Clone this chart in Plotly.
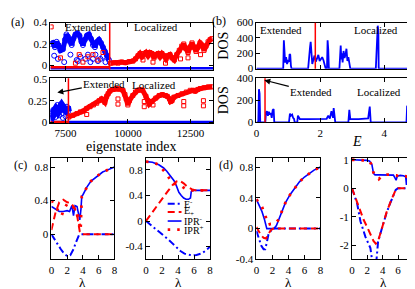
import plotly.graph_objects as go

W, H = 415, 289
FONT = "'Liberation Serif', 'DejaVu Serif', 'Times New Roman', serif"
BLUE = "#0000ff"
RED = "#ff0000"

# ---------------- panel (a) top ----------------
a_top_ext_idx = [6920, 7000, 7080, 7150, 7220, 7300, 7400, 7480, 7540, 7600, 7680, 7750, 7820, 7900,
                 7980, 8060, 8140, 8200, 8280, 8360, 8440, 8520, 8600, 8680, 8760, 8840, 8920, 9000,
                 9080, 9160, 9240]
a_top_ext_ipr = [0.20, 0.21, 0.17, 0.22, 0.19, 0.14, 0.15, 0.24, 0.29, 0.27, 0.22, 0.19, 0.25, 0.29,
                 0.30, 0.28, 0.22, 0.19, 0.24, 0.28, 0.29, 0.25, 0.19, 0.17, 0.22, 0.24, 0.21, 0.17,
                 0.13, 0.09, 0.05]
a_top_ext_out_idx = [7050, 7200, 7450, 7700, 7950, 8000, 8100, 8300, 8400, 8500, 8600, 8700, 8800, 8900, 9000, 9100]
a_top_ext_out_ipr = [0.09, 0.06, 0.03, 0.10, 0.05, 0.04, 0.08, 0.06, 0.10, 0.03, 0.06, 0.10, 0.04, 0.06, 0.08, 0.03]
a_top_loc_idx = [9300, 9450, 9600, 9750, 9900, 10050, 10200, 10300, 10400, 10480, 10560, 10640, 10720,
                 10800, 10880, 10960, 11040, 11120, 11200, 11280, 11360, 11440, 11520, 11600, 11680,
                 11760, 11850, 11950, 12050, 12150, 12230, 12300, 12400, 12480, 12560, 12640, 12720,
                 12800, 12880, 12960, 13040, 13120, 13200, 13280, 13350]
a_top_loc_ipr = [0.02, 0.025, 0.02, 0.03, 0.025, 0.035, 0.04, 0.06, 0.09, 0.11, 0.08, 0.11, 0.12,
                 0.09, 0.12, 0.11, 0.07, 0.10, 0.11, 0.08, 0.11, 0.09, 0.06, 0.09, 0.10,
                 0.07, 0.05, 0.10, 0.14, 0.18, 0.20, 0.16, 0.12, 0.17, 0.21, 0.17, 0.13,
                 0.17, 0.21, 0.19, 0.14, 0.18, 0.22, 0.24, 0.25]
a_top_red_out_idx = [6930, 7300, 7900, 8050, 8200, 8400, 8600, 8800, 9000, 10600, 11000, 11500, 12100, 12400, 12900]
a_top_red_out_ipr = [0.36, 0.07, 0.02, 0.10, 0.03, 0.08, 0.10, 0.05, 0.12, 0.05, 0.03, 0.02, 0.06, 0.07, 0.10]
a_top_zero_blue_idx = [6900, 13400]
a_top_zero_blue_ipr = [-0.032, -0.032]
a_top_zero_red_idx = [6900, 9270]
a_top_zero_red_ipr = [-0.018, -0.018]
a_top_edge = 9270

# ---------------- panel (a) bottom ----------------
a_bot_ext_idx = [6920, 6980, 7050, 7120, 7200, 7280, 7350, 7420, 7500, 7560, 7600]
a_bot_ext_ipr = [0.10, 0.08, 0.12, 0.15, 0.12, 0.17, 0.19, 0.16, 0.14, 0.18, 0.12]
a_bot_ext_out_idx = [6950, 7100, 7250, 7400, 7500, 7000, 7180, 7320]
a_bot_ext_out_ipr = [0.05, 0.06, 0.08, 0.05, 0.07, 0.14, 0.20, 0.21]
a_bot_loc_idx = [7630, 7800, 7960, 8100, 8220, 8350, 8485, 8620, 8750, 8850, 8944, 9075, 9150, 9206,
                 9272, 9400, 9535, 9660, 9797, 9880, 9929, 9995, 10060, 10192, 10300, 10389, 10500,
                 10586, 10717, 10800, 10849, 10950, 11112, 11250, 11375, 11500, 11572, 11660, 11703,
                 11760, 11835, 12000, 12163, 12330, 12491, 12600, 12688, 12790, 12885, 13050, 13214, 13372]
a_bot_loc_ipr = [0.06, 0.08, 0.10, 0.12, 0.13, 0.16, 0.18, 0.20, 0.22, 0.25, 0.27, 0.23, 0.30, 0.33,
                 0.36, 0.38, 0.39, 0.385, 0.37, 0.32, 0.27, 0.20, 0.25, 0.31, 0.35, 0.37, 0.375,
                 0.37, 0.30, 0.25, 0.21, 0.24, 0.28, 0.31, 0.32, 0.31, 0.30, 0.27, 0.24,
                 0.25, 0.29, 0.31, 0.33, 0.35, 0.37, 0.37, 0.36, 0.38, 0.39, 0.40, 0.41, 0.41]
a_bot_red_out_idx = [8350, 9600, 9600, 10650, 10650, 12230, 12230, 13016, 13016, 11000]
a_bot_red_out_ipr = [0.09, 0.27, 0.21, 0.24, 0.18, 0.24, 0.19, 0.25, 0.19, 0.20]
a_bot_zero_blue_idx = [6900, 13400]
a_bot_zero_blue_ipr = [-0.002, -0.002]
a_bot_zero_red_idx = [6900, 7620]
a_bot_zero_red_ipr = [0.002, 0.002]
a_bot_edge = 7620
a_ticks = [7500, 10000, 12500]

# ---------------- panel (b) ----------------
b_top_E = [0, 0.84, 0.86, 0.88, 0.90, 0.93, 0.96, 0.99, 1.02, 1.04, 1.06, 1.08, 1.10,
           1.62, 1.65, 1.68, 1.70, 1.72, 1.75, 1.78, 1.82, 1.86, 1.90, 1.94, 1.98, 2.02, 2.06, 2.10, 2.14, 2.17,
           2.21, 2.23, 2.25, 2.27,
           2.60, 2.62, 2.64, 2.66, 2.68, 2.70, 2.73, 2.76, 2.79, 2.82, 2.85, 2.88, 2.91, 2.94,
           3.74, 3.76, 3.78, 3.80, 3.82, 3.83, 5.0]
b_top_dos = [0, 0, 370, 120, 80, 150, 60, 100, 90, 190, 180, 40, 0,
             0, 200, 280, 350, 150, 60, 110, 170, 90, 140, 180, 100, 130, 150, 110, 60, 0,
             0, 370, 250, 0,
             0, 250, 300, 120, 200, 80, 230, 140, 180, 260, 100, 150, 60, 0,
             0, 300, 420, 560, 480, 0, 0]
b_bot_E = [0, 0.06, 0.08, 0.10, 0.12, 0.28, 0.30, 0.33, 0.36, 0.39, 0.42, 0.45, 0.48, 0.51, 0.54, 0.56,
           1.02, 1.05, 1.08, 1.12, 1.15, 1.18, 1.20, 1.28, 1.30, 1.33, 1.36, 1.6, 1.9, 2.2,
           2.25, 2.30, 2.35, 2.40, 2.42, 2.47, 2.88, 2.91, 2.94, 3.2, 3.5, 3.55, 3.58,
           4.70, 4.72, 4.75, 4.80, 4.85, 4.88, 4.92, 4.95, 5.0]
b_bot_dos = [0, 0, 300, 260, 0, 0, 90, 100, 60, 95, 70, 85, 40, 110, 120, 0,
             0, 80, 60, 70, 40, 30, 0, 0, 60, 40, 30, 28, 30, 32,
             60, 35, 100, 40, 130, 0, 0, 113, 30, 28, 35, 142, 0,
             0, 150, 140, 180, 230, 300, 315, 0, 0]
b_top_edge = 1.845
b_bot_edge = 0.27

# ---------------- panel (c) ----------------
c1_lam_em = [0, 0.4, 0.8, 1.2, 1.6, 2.0, 2.4, 2.8, 3.1, 3.5, 3.8, 8.0]
c1_em = [0, -0.06, -0.13, -0.18, -0.23, -0.26, -0.25, -0.18, -0.10, -0.01, 0, 0]
c1_lam_ep = [0, 0.5, 1.0, 1.5, 2.0, 2.5, 3.0, 3.3, 3.6, 3.8, 8.0]
c1_ep = [0.05, 0.25, 0.38, 0.41, 0.38, 0.37, 0.30, 0.20, 0.03, 0, 0]
c1_lam_ipm = [0, 0.5, 1.0, 1.5, 2.0, 2.3, 2.6, 2.8, 3.0, 3.25, 3.5, 3.6, 3.75, 3.85, 4.0, 4.5, 5.0,
              5.5, 6.0, 6.5, 7.0, 7.5, 8.0]
c1_ipm = [0.33, 0.30, 0.27, 0.27, 0.28, 0.27, 0.34, 0.22, 0.34, 0.33, 0.22, 0.17, 0.30, 0.45, 0.47,
          0.56, 0.63, 0.67, 0.71, 0.74, 0.76, 0.78, 0.80]
c1_lam_ipp = [0, 0.5, 1.0, 1.3, 1.6, 2.0, 2.4, 2.8, 3.2, 3.5, 3.7, 3.85, 4.0, 4.5, 5.0, 5.5, 6.0,
              6.5, 7.0, 7.5, 8.0]
c1_ipp = [0.40, 0.33, 0.26, 0.22, 0.30, 0.36, 0.36, 0.32, 0.28, 0.15, 0.05, 0.45, 0.47, 0.56, 0.63,
          0.67, 0.71, 0.74, 0.76, 0.78, 0.80]

c2_lam_em = [0, 0.5, 1.0, 1.6, 2.2, 2.8, 3.3, 3.8, 4.3, 4.8, 5.3, 5.8, 6.3, 6.9, 7.5, 8.0]
c2_em = [0, -0.05, -0.11, -0.17, -0.23, -0.29, -0.35, -0.41, -0.47, -0.51, -0.53, -0.54, -0.53,
         -0.51, -0.46, -0.40]
c2_lam_ep = [0, 0.5, 1.0, 1.6, 2.2, 2.8, 3.3, 3.8, 4.2, 4.7, 5.2, 5.7, 6.2, 7.0, 8.0]
c2_ep = [0, 0.09, 0.17, 0.28, 0.38, 0.48, 0.56, 0.62, 0.63, 0.59, 0.53, 0.50, 0.48, 0.48, 0.48]
c2_lam_ipm = [0, 0.8, 1.6, 2.2, 2.6, 3.0, 3.5, 3.8, 4.1, 4.4, 4.7, 5.0, 5.3, 5.55, 5.65, 5.8, 6.5,
              7.2, 8.0]
c2_ipm = [0.93, 0.92, 0.88, 0.83, 0.78, 0.72, 0.63, 0.55, 0.45, 0.40, 0.36, 0.34, 0.34, 0.36, 0.46,
          0.48, 0.48, 0.48, 0.48]
c2_lam_ipp = [0, 0.8, 1.6, 2.2, 2.6, 3.0, 3.4, 3.8, 4.2, 4.6, 5.0, 5.5, 6.0, 7.0, 8.0]
c2_ipp = [0.93, 0.92, 0.88, 0.80, 0.73, 0.65, 0.58, 0.58, 0.57, 0.53, 0.50, 0.48, 0.48, 0.48, 0.48]

# ---------------- panel (d) ----------------
d1_lam_em = [0, 0.3, 0.6, 0.9, 1.1, 1.3, 1.5, 1.8, 2.1, 2.5, 8.0]
d1_em = [-0.03, -0.12, -0.22, -0.27, -0.27, -0.18, -0.08, -0.03, 0, 0, 0]
d1_lam_ep = [0, 0.3, 0.6, 0.9, 1.2, 1.5, 1.8, 2.1, 8.0]
d1_ep = [0.02, -0.04, -0.09, -0.12, -0.13, -0.07, -0.02, 0, 0]
d1_lam_ipm = [0, 0.35, 0.7, 1.0, 1.3, 1.6, 1.9, 2.2, 2.5, 2.8, 3.2, 3.6, 4.2, 4.8, 5.4, 6.0, 6.6,
              7.2, 8.0]
d1_ipm = [0.38, 0.30, 0.22, 0.12, 0.0, 0.0, 0.0, 0.0, 0.04, 0.12, 0.23, 0.33, 0.44, 0.53, 0.61,
          0.67, 0.72, 0.76, 0.80]
d1_lam_ipp = [0, 0.35, 0.7, 1.0, 1.3, 1.5, 1.8, 2.1, 2.4, 2.8, 3.2, 3.6, 4.2, 4.8, 5.4, 6.0, 6.6,
              7.2, 8.0]
d1_ipp = [0.38, 0.33, 0.28, 0.20, 0.10, 0.05, 0.06, 0.06, 0.07, 0.12, 0.23, 0.33, 0.44, 0.53, 0.61,
          0.67, 0.72, 0.76, 0.80]

d2_lam_em = [0, 0.67, 1.1, 1.75, 2.4, 2.6, 2.75, 3.1, 3.4, 3.8, 4.1, 4.5, 5.0, 5.4, 5.7, 6.0, 7.0, 8.3]
d2_em = [0, -0.54, -1.16, -1.71, -2.10, -2.43, -2.80, -2.80, -1.88, -1.50, -1.22, -0.87, -0.51,
         -0.26, -0.06, 0, 0, 0]
d2_lam_ep = [0, 0.6, 1.0, 1.5, 2.0, 2.4, 2.8, 3.1, 3.4, 3.8, 4.1, 4.5, 5.0, 5.4, 5.7, 6.0, 7.0, 8.3]
d2_ep = [0, -0.43, -0.75, -1.10, -1.38, -1.60, -1.85, -1.95, -1.85, -1.50, -1.20, -0.85, -0.50,
         -0.25, -0.05, 0, 0, 0]
d2_lam_ipm = [0, 1.0, 2.0, 2.3, 2.6, 2.8, 3.0, 3.5, 4.0, 4.5, 5.0, 5.4, 5.6, 5.75, 5.9, 6.3, 6.7,
              7.0, 7.1, 7.2, 7.5, 7.7, 7.9, 8.1, 8.3]
d2_ipm = [1.0, 0.99, 0.98, 0.95, 0.82, 0.52, 0.47, 0.47, 0.47, 0.47, 0.48, 0.46, 0.36, 0.28, 0.42,
          0.45, 0.44, 0.40, 0.12, 0.40, 0.38, 0.30, 0.36, 0.28, 0.25]
d2_lam_ipp = [0, 1.0, 1.6, 2.2, 2.5, 2.8, 3.1, 3.5, 4.0, 4.5, 5.0, 5.5, 5.8, 6.2, 6.6, 7.0, 7.4,
              7.8, 8.3]
d2_ipp = [1.0, 0.99, 0.99, 0.97, 0.85, 0.55, 0.45, 0.32, 0.45, 0.48, 0.48, 0.47, 0.45, 0.40, 0.40,
          0.42, 0.38, 0.25, 0.20]

legend_labels = ["E<sup>-</sup>", "E<sub>+</sub>", "IPR<sup>-</sup>", "IPR<sup>+</sup>"]


def px(x):
    return x / W


def py(y):
    return 1 - y / H


fig = go.Figure()

# panel geometry (pixels): x0, x1, ytop, ybottom
geo = {
    1: (40, 205, 9, 58),
    2: (40, 205, 67, 114),
    3: (249, 411, 9, 57),
    4: (249, 411, 67, 113),
    5: (41, 105, 150, 256),
    6: (137, 202, 150, 256),
    7: (249, 314, 150, 256),
    8: (346, 411, 150, 256),
}


def xy(i):
    return ("x" if i == 1 else f"x{i}", "y" if i == 1 else f"y{i}")


def add(i, **kw):
    xa, ya = xy(i)
    fig.add_trace(go.Scatter(xaxis=xa, yaxis=ya, showlegend=False, hoverinfo="skip", **kw))


sq = dict(symbol="square-open", size=4, color=RED, line=dict(width=1, color=RED))
ci = dict(symbol="circle-open", size=5, color=BLUE, line=dict(width=1, color=BLUE))

# (a) top
add(1, x=a_top_zero_blue_idx, y=a_top_zero_blue_ipr, mode="lines", line=dict(color=BLUE, width=3.5))
add(1, x=a_top_zero_red_idx, y=a_top_zero_red_ipr, mode="lines", line=dict(color=RED, width=2.5))
add(1, x=a_top_ext_idx, y=a_top_ext_ipr, mode="lines+markers", line=dict(color=BLUE, width=5), marker=ci)
add(1, x=a_top_ext_out_idx, y=a_top_ext_out_ipr, mode="markers", marker=ci)
add(1, x=a_top_loc_idx, y=a_top_loc_ipr, mode="lines+markers", line=dict(color=RED, width=5), marker=sq)
add(1, x=a_top_red_out_idx, y=a_top_red_out_ipr, mode="markers", marker=sq)

# (a) bottom
add(2, x=a_bot_zero_blue_idx, y=a_bot_zero_blue_ipr, mode="lines", line=dict(color=BLUE, width=3.5))
add(2, x=a_bot_zero_red_idx, y=a_bot_zero_red_ipr, mode="lines", line=dict(color=RED, width=2.5))
add(2, x=a_bot_ext_idx, y=a_bot_ext_ipr, mode="lines+markers", line=dict(color=BLUE, width=8), marker=ci)
add(2, x=a_bot_ext_out_idx, y=a_bot_ext_out_ipr, mode="markers", marker=ci)
add(2, x=a_bot_loc_idx, y=a_bot_loc_ipr, mode="lines+markers", line=dict(color=RED, width=5), marker=sq)
add(2, x=a_bot_red_out_idx, y=a_bot_red_out_ipr, mode="markers", marker=sq)

# (b)
add(3, x=b_top_E, y=b_top_dos, mode="lines", line=dict(color=BLUE, width=1.8))
add(4, x=b_bot_E, y=b_bot_dos, mode="lines", line=dict(color=BLUE, width=1.8))

# (c), (d)
st_em = dict(color=BLUE, width=2, dash="7px,3px,2px,3px")
st_ep = dict(color=RED, width=2, dash="7px,4px")
st_ipm = dict(color=BLUE, width=1.6)
st_ipp = dict(color=RED, width=2.8, dash="2.5px,7px")
for i, (le, e, lp, p, lim, im, lip, ip) in {
    5: (c1_lam_em, c1_em, c1_lam_ep, c1_ep, c1_lam_ipm, c1_ipm, c1_lam_ipp, c1_ipp),
    6: (c2_lam_em, c2_em, c2_lam_ep, c2_ep, c2_lam_ipm, c2_ipm, c2_lam_ipp, c2_ipp),
    7: (d1_lam_em, d1_em, d1_lam_ep, d1_ep, d1_lam_ipm, d1_ipm, d1_lam_ipp, d1_ipp),
    8: (d2_lam_em, d2_em, d2_lam_ep, d2_ep, d2_lam_ipm, d2_ipm, d2_lam_ipp, d2_ipp),
}.items():
    add(i, x=le, y=e, mode="lines", line=st_em)
    add(i, x=lim, y=im, mode="lines", line=st_ipm)
    add(i, x=lp, y=p, mode="lines", line=st_ep)
    add(i, x=lip, y=ip, mode="lines", line=st_ipp)

tickfont = dict(family=FONT, size=11, color="black")
titlefont = dict(family=FONT, size=14, color="black")


def axis_x(i, rng, tickvals, showlabels=True):
    x0, x1, yt, yb = geo[i]
    return dict(domain=[px(x0), px(x1)], range=rng, anchor=xy(i)[1], showline=True, linecolor="black",
                linewidth=1, mirror="ticks", ticks="inside", ticklen=4, tickcolor="black", showgrid=False,
                zeroline=False, tickvals=tickvals, ticktext=[str(v) for v in tickvals],
                showticklabels=showlabels, tickfont=tickfont)


def axis_y(i, rng, tickvals, title=None, standoff=2):
    x0, x1, yt, yb = geo[i]
    d = dict(domain=[py(yb), py(yt)], range=rng, anchor=xy(i)[0], showline=True, linecolor="black",
             linewidth=1, mirror="ticks", ticks="inside", ticklen=4, tickcolor="black", showgrid=False,
             zeroline=False, tickvals=tickvals, ticktext=[str(v) for v in tickvals], tickfont=tickfont)
    if title:
        d["title"] = dict(text=title, font=titlefont, standoff=standoff)
    return d


lam_ticks = [0, 2, 4, 6, 8]
layout = dict(
    width=W, height=H, autosize=False, margin=dict(l=0, r=0, t=0, b=0),
    paper_bgcolor="white", plot_bgcolor="white", showlegend=False,
    font=dict(family=FONT, color="black"),
    xaxis=axis_x(1, [6900, 13400], a_ticks, showlabels=False),
    yaxis=axis_y(1, [-0.04, 0.4], [0, 0.2, 0.4]),
    xaxis2=axis_x(2, [6900, 13400], a_ticks),
    yaxis2=axis_y(2, [-0.012, 0.51], [0, 0.25, 0.5]),
    xaxis3=axis_x(3, [0, 5.0], [0, 2, 4], showlabels=False),
    yaxis3=axis_y(3, [0, 600], [0, 200, 400, 600], title="DOS", standoff=4),
    xaxis4=axis_x(4, [0, 5.0], [0, 2, 4]),
    yaxis4=axis_y(4, [0, 400], [0, 200, 400], title="DOS", standoff=4),
    xaxis5=axis_x(5, [0, 8], lam_ticks),
    yaxis5=axis_y(5, [-0.3, 0.91], [0, 0.4, 0.8]),
    xaxis6=axis_x(6, [0, 8], lam_ticks),
    yaxis6=axis_y(6, [-0.6, 0.99], [-0.4, 0, 0.4, 0.8]),
    xaxis7=axis_x(7, [0, 8], lam_ticks),
    yaxis7=axis_y(7, [-0.4, 0.92], [-0.4, 0, 0.4, 0.8]),
    xaxis8=axis_x(8, [0, 8.35], lam_ticks),
    yaxis8=axis_y(8, [-2.5, 1.07], [-2, -1, 0, 1]),
)
fig.update_layout(**layout)

# red boundary lines
for i, edge in [(1, a_top_edge), (2, a_bot_edge), (3, b_top_edge), (4, b_bot_edge)]:
    xa, ya = xy(i)
    fig.add_shape(type="line", xref=xa, yref=f"{ya} domain", x0=edge, x1=edge, y0=0, y1=1,
                  line=dict(color=RED, width=1.5))

ann = []


def label(x, y, text, size=11, xanchor="center"):
    ann.append(dict(xref="paper", yref="paper", x=px(x), y=py(y), text=text, showarrow=False,
                    xanchor=xanchor, yanchor="middle",
                    font=dict(family=FONT, size=size, color="black")))


label(7, 8, "(a)", 12)
label(211, 7, "(b)", 12)
label(10, 158, "(c)", 12)
label(218, 158, "(d)", 12)
label(76, 14, "Extended", 11)
label(147, 14, "Localized", 11)
label(274, 17, "Extended", 11)
label(370, 17, "Localized", 11)
label(145, 74, "Localized", 11)
label(373, 81, "Localized", 11)
label(351, 133, "<i>E</i>", 14)
label(122, 138, "eigenstate index", 14)
for i in (5, 6, 7, 8):
    x0, x1, yt, yb = geo[i]
    xc = (x0 + x1) / 2 if i != 8 else 346.5 + 4 * 7.75
    label(xc, 280.5, "λ", 13)

# arrows with text
ann.append(dict(xref="paper", yref="paper", x=px(47), y=py(82), ax=47, ay=-9, axref="pixel", ayref="pixel",
                text="Extended", showarrow=True, arrowhead=2, arrowsize=1, arrowwidth=1.2,
                arrowcolor="black", font=dict(family=FONT, size=11, color="black")))
ann.append(dict(xref="paper", yref="paper", x=px(257), y=py(69), ax=47, ay=12, axref="pixel", ayref="pixel",
                text="Extended", showarrow=True, arrowhead=2, arrowsize=1, arrowwidth=1.2,
                arrowcolor="black", font=dict(family=FONT, size=11, color="black")))

# manual legend in panel (c) right
leg_rows = [198, 206.5, 216, 225]
leg_styles = [st_em, st_ep, st_ipm, st_ipp]
for yy, lab, st in zip(leg_rows, legend_labels, leg_styles):
    fig.add_shape(type="line", xref="paper", yref="paper", x0=px(159), x1=px(173), y0=py(yy), y1=py(yy),
                  line=st)
    label(174, yy, lab, 10, xanchor="left")

fig.update_layout(annotations=ann)
fig.write_html("out.html")
